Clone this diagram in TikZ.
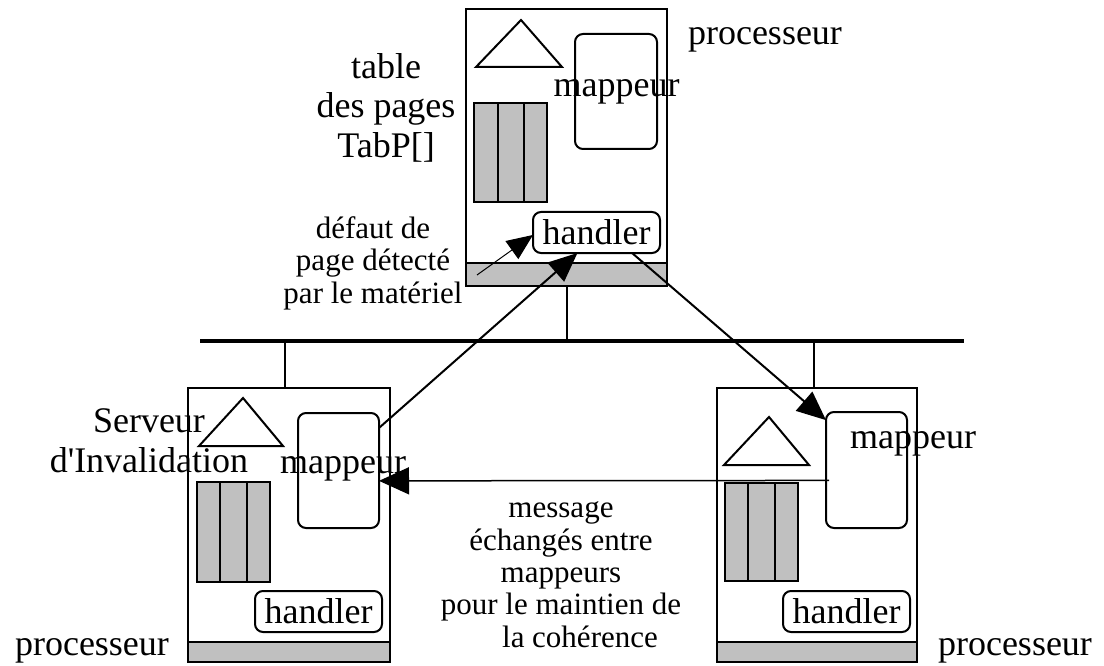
\documentclass[tikz,border=0pt]{standalone}
\usepackage{fontspec}
\newfontfamily\txtfont{Liberation Serif}
\usetikzlibrary{arrows.meta,calc}
\definecolor{boxgray}{RGB}{192,192,192}
\begin{document}
\begin{tikzpicture}[x=1pt,y=-1pt,
  big/.style={font=\txtfont\fontsize{36}{40}\selectfont, inner sep=0pt},
  small/.style={font=\txtfont\fontsize{31}{32.3}\selectfont, inner sep=0pt, align=center},
  frame/.style={draw, line width=2pt, inner sep=0pt, outer sep=0pt},
  rbox/.style={draw, line width=2pt, rounded corners=8pt, inner sep=0pt, outer sep=0pt},
  bar/.style={draw, fill=boxgray, line width=2pt, inner sep=0pt, outer sep=0pt},
  tri/.style={draw, line width=2pt, line join=miter},
  divider/.style={line width=2pt},
  arr/.style={line width=2pt, -{Triangle[length=29pt,width=25pt]}},
  thinarr/.style={line width=1pt, -{Triangle[length=26pt,width=22pt]}},
  stub/.style={line width=1.5pt},
]
\useasboundingbox (0,0) rectangle (1104,666);

% ---------- top processor ----------
\node[frame, minimum width=201pt, minimum height=277pt] (procT) at (566.5,147.5) {};
\node[bar, minimum width=201pt, minimum height=23pt] (barT) at (566.5,274.5) {};
\draw[tri] (521,20) -- (476,67) -- (562,67) -- cycle;
\node[rbox, minimum width=82pt, minimum height=115pt] (mapT) at (616,91.5) {};
\node[bar, minimum width=73pt, minimum height=99pt] (tabT) at (510.5,152.5) {};
\draw[divider] (498,103) -- (498,202) (524,103) -- (524,202);
\node[rbox, big, minimum width=127pt, minimum height=41pt] (handT) at (596.5,232.5) {handler};
\node[big, anchor=base] (mapTlbl) at (616.5,97) {mappeur};
\node[big, anchor=base] (procTlbl) at (765,45) {processeur};
\node[big, align=center, anchor=base] (tablbl) at (386,158) {table\\des pages\\TabP[]};

% ---------- bottom-left processor ----------
\node[frame, minimum width=202pt, minimum height=274pt] (procL) at (289,525) {};
\node[bar, minimum width=202pt, minimum height=20pt] (barL) at (289,652) {};
\draw[tri] (243,398) -- (199,446) -- (283,446) -- cycle;
\node[rbox, minimum width=81pt, minimum height=115pt] (mapL) at (338.5,470.5) {};
\node[bar, minimum width=73pt, minimum height=100pt] (tabL) at (233.5,532) {};
\draw[divider] (220,482) -- (220,582) (247,482) -- (247,582);
\node[rbox, big, minimum width=127pt, minimum height=41pt] (handL) at (318.5,611.5) {handler};
\node[big, anchor=base] (mapLlbl) at (343,473) {mappeur};
\node[big, anchor=base] (procLlbl) at (92,655) {processeur};
\node[big, align=center, anchor=base] (servlbl) at (149,472) {Serveur\\d'Invalidation};

% ---------- bottom-right processor ----------
\node[frame, minimum width=200pt, minimum height=274pt] (procR) at (817,525) {};
\node[bar, minimum width=200pt, minimum height=20pt] (barR) at (817,652) {};
\draw[tri] (769,417) -- (724,465) -- (809,465) -- cycle;
\node[rbox, minimum width=81pt, minimum height=116pt] (mapR) at (866.5,470) {};
\node[bar, minimum width=73pt, minimum height=98pt] (tabR) at (761.5,532) {};
\draw[divider] (748,483) -- (748,581) (775,483) -- (775,581);
\node[rbox, big, minimum width=127pt, minimum height=41pt] (handR) at (846.5,611.5) {handler};
\node[big, anchor=base] (mapRlbl) at (913,448) {mappeur};
\node[big, anchor=base] (procRlbl) at (1015,655) {processeur};

% ---------- bus ----------
\coordinate (busL) at (200,341);
\coordinate (busR) at (964,341);
\draw[line width=4pt] (busL) -- (busR);
\coordinate (sT) at (567,341);
\coordinate (sL) at (285,341);
\coordinate (sR) at (814,341);
\draw[stub] (sT) -- (sT |- procT.south);
\draw[stub] (sL) -- (sL |- procL.north);
\draw[stub] (sR) -- (sR |- procR.north);

% ---------- labels ----------
\node[small, anchor=base] (defaut) at (373,303) {défaut de\\page détecté\\par le matériel};
\node[small, anchor=base] (msg) at (561,647) {message\\échangés entre\\mappeurs\\pour le maintien de\\\hspace*{38pt}la cohérence};

% ---------- arrows ----------
\coordinate (d0) at (477,275);
\draw[thinarr] (d0) -- ($(handT.north west)!0.56!(handT.south west)$);
\draw[arr] ($(mapL.north east)!0.13!(mapL.south east)$) -- ($(handT.south west)!0.35!(handT.south east)$);
\draw[arr] ($(handT.south west)!0.78!(handT.south east)$) -- ($(mapR.north west)!0.07!(mapR.south west)$);
\draw[line width=1.5pt, -{Triangle[length=30pt,width=27pt]}] ($(mapR.north west)!0.59!(mapR.south west)+(3,0)$) -- ($(mapL.north east)!0.59!(mapL.south east)$);
\end{tikzpicture}
\end{document}
